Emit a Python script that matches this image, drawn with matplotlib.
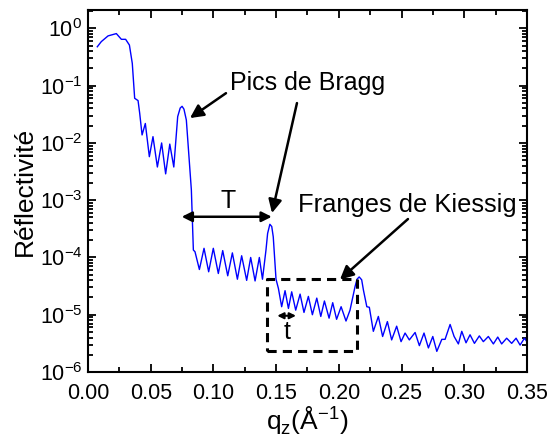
import numpy as np
import matplotlib
matplotlib.use("Agg")
import matplotlib.pyplot as plt
from matplotlib.ticker import MultipleLocator, LogLocator, NullFormatter

plt.rcParams['font.family'] = ['Liberation Sans', 'DejaVu Sans']
plt.rcParams['mathtext.fontset'] = 'custom'
plt.rcParams['mathtext.rm'] = 'Liberation Sans'
plt.rcParams['axes.unicode_minus'] = False

# courbe de réflectivité (q en Å^-1, log10 R)
q = [0.0074, 0.0106, 0.0160, 0.0226, 0.0266, 0.0300, 0.0330, 0.0353, 0.0372,
     0.0399, 0.0412, 0.0431, 0.0457, 0.0489, 0.0518, 0.0553, 0.0587, 0.0619,
     0.0652, 0.0684, 0.0715, 0.0735, 0.0750, 0.0765, 0.0784, 0.0824, 0.0840,
     0.0853, 0.0888,
     0.0925, 0.0962, 0.0999, 0.1039, 0.1074, 0.1114, 0.1151, 0.1191, 0.1225,
     0.1265, 0.1297, 0.1332, 0.1366, 0.1391, 0.1419, 0.1432, 0.1450, 0.1465,
     0.1477, 0.1499,
     0.1518, 0.1544, 0.1571, 0.1598, 0.1624, 0.1656, 0.1691, 0.1722, 0.1757,
     0.1789, 0.1824, 0.1856, 0.1885, 0.1922, 0.1951, 0.1982, 0.2018, 0.2057,
     0.2089, 0.2129, 0.2145, 0.2162, 0.2182, 0.2196, 0.2223, 0.2243, 0.2275,
     0.2315,
     0.2349, 0.2387, 0.2421, 0.2461, 0.2496, 0.2528, 0.2562, 0.2608, 0.2642,
     0.2679, 0.2714, 0.2749, 0.2781, 0.2821, 0.2847, 0.2887, 0.2919, 0.2953,
     0.2980, 0.3014, 0.3046, 0.3081, 0.3120, 0.3152, 0.3192, 0.3232, 0.3267,
     0.3298, 0.3338, 0.3378, 0.3413, 0.3445, 0.3480, 0.3499]
logR = [-0.32, -0.23, -0.13, -0.09, -0.19, -0.19, -0.29, -0.61, -1.22,
        -1.26, -1.48, -1.86, -1.66, -2.24, -1.89, -2.42, -2.00, -2.54,
        -2.02, -2.42, -1.54, -1.39, -1.36, -1.41, -1.60, -2.82, -3.87,
        -3.90, -4.21,
        -3.84, -4.25, -3.84, -4.28, -3.88, -4.32, -3.92, -4.38, -3.97,
        -4.40, -4.00, -4.41, -4.00, -4.38, -3.87, -3.58, -3.42, -3.46,
        -3.64, -4.38,
        -4.54, -4.86, -4.58, -4.89, -4.60, -4.92, -4.64, -4.96, -4.68,
        -5.00, -4.71, -5.03, -4.76, -5.06, -4.79, -5.08, -4.86, -5.11,
        -4.92, -4.51, -4.38, -4.34, -4.39, -4.57, -4.86, -4.87, -5.29,
        -5.03,
        -5.38, -5.12, -5.44, -5.20, -5.47, -5.32, -5.44, -5.31, -5.54,
        -5.32, -5.58, -5.38, -5.64, -5.43, -5.43, -5.17, -5.38, -5.51,
        -5.29, -5.49, -5.35, -5.50, -5.37, -5.47, -5.38, -5.51, -5.39,
        -5.51, -5.41, -5.50, -5.41, -5.53, -5.41, -5.47]
R = 10 ** np.array(logR)

# zone des franges de Kiessig (cadre pointillé)
box_q = [0.1430, 0.2148]
box_R = [2.33e-6, 4.13e-5]

fig = plt.figure(figsize=(5.47, 4.44), dpi=100)
ax = fig.add_axes([0.1609, 0.1622, 0.8025, 0.8153])

ax.plot(q, R, color='#0000ff', lw=1.0)
ax.set_yscale('log')
ax.set_xlim(0, 0.35)
ax.set_ylim(1e-6, 2.1)

ax.xaxis.set_major_locator(MultipleLocator(0.05))
ax.xaxis.set_minor_locator(MultipleLocator(0.025))
ax.yaxis.set_major_locator(LogLocator(base=10, numticks=20))
ax.yaxis.set_minor_locator(LogLocator(base=10, subs=np.arange(2, 10), numticks=20))
ax.yaxis.set_minor_formatter(NullFormatter())
ax.xaxis.set_major_formatter(plt.FuncFormatter(lambda v, p: f"{v:.2f}"))

ax.tick_params(which='both', direction='in', top=True, right=True, width=1.3)
ax.tick_params(which='major', length=6, labelsize=15.5)
ax.tick_params(axis='x', which='major', pad=8)
ax.tick_params(axis='y', which='major', pad=4)
ax.tick_params(which='minor', length=3.5)
for s in ax.spines.values():
    s.set_linewidth(1.5)

ax.set_ylabel('Réflectivité', fontsize=19, labelpad=2)
ax.set_xlabel(r'q$_\mathregular{z}$(Å$^\mathregular{-1}$)', fontsize=19, labelpad=0)

# cadre pointillé
bx = [box_q[0], box_q[1], box_q[1], box_q[0], box_q[0]]
by = [box_R[0], box_R[0], box_R[1], box_R[1], box_R[0]]
ax.plot(bx, by, color='k', lw=2.2, ls=(0, (3, 2)))

arrow = dict(arrowstyle='-|>', color='k', lw=1.8, mutation_scale=20, shrinkA=0, shrinkB=0)
darrow = dict(arrowstyle='<|-|>', color='k', lw=1.8, mutation_scale=15, shrinkA=0, shrinkB=0)

ax.text(0.1132, 0.111, 'Pics de Bragg', fontsize=18, va='center', ha='left')
ax.annotate('', xy=(0.0813, 0.0272), xytext=(0.110, 0.074), arrowprops=arrow)
ax.annotate('', xy=(0.1467, 5.97e-4), xytext=(0.1666, 0.0497), arrowprops=arrow)

ax.annotate('', xy=(0.0747, 5.14e-4), xytext=(0.1465, 5.14e-4), arrowprops=darrow)
ax.text(0.112, 9.66e-4, 'T', fontsize=18, ha='center', va='center')

ax.text(0.1674, 8.2e-4, 'Franges de Kiessig', fontsize=18.4, va='center', ha='left')
ax.annotate('', xy=(0.2009, 4.12e-5), xytext=(0.2551, 4.69e-4), arrowprops=arrow)

ax.annotate('', xy=(0.1509, 9.6e-6), xytext=(0.1658, 9.6e-6),
            arrowprops=dict(arrowstyle='<|-|>', color='k', lw=1.5, mutation_scale=9,
                            shrinkA=0, shrinkB=0))
ax.text(0.1587, 4.99e-6, 't', fontsize=18, ha='center', va='center')

fig.savefig('out.png', dpi=100)
